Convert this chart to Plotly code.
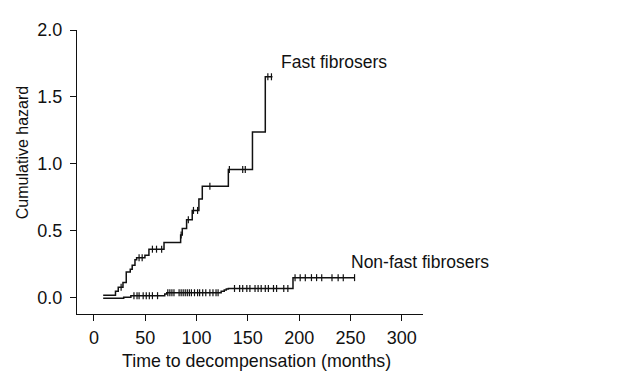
import numpy as np
import plotly.graph_objects as go

# ---- data ----
fast_times = [9, 21, 23.7, 28.3, 31.5, 35.4, 37.3, 40, 41.6, 49.7, 53.6, 68.3,
              84.5, 86.1, 90.3, 95.8, 102.3, 105.6, 131, 154.5, 167, 174]
fast_hazard = [0.015, 0.045, 0.075, 0.11, 0.19, 0.21, 0.24, 0.28, 0.295, 0.315, 0.36, 0.41,
               0.467, 0.515, 0.58, 0.65, 0.736, 0.83, 0.957, 1.236, 1.65, 1.65]
fast_censored = [26.5, 44, 47, 57, 61, 66, 85, 92, 97, 101, 113, 132, 145, 147.5, 169.5, 173]

nonfast_times = [9, 29, 36, 69, 71, 124, 127, 129, 131, 194, 254]
nonfast_hazard = [-0.008, 0.0, 0.012, 0.024, 0.034, 0.045, 0.055, 0.062, 0.066, 0.147, 0.147]
nonfast_censored = [39, 42, 44, 48, 51, 54, 57, 62, 72, 74, 76, 78, 83, 85, 87, 89, 91, 93,
                    95, 98, 101, 103, 106, 109, 113, 116, 119, 121, 137, 142, 145, 149, 152,
                    157, 160, 163, 167, 170, 175, 178, 185, 189, 196, 201, 206, 212, 217,
                    222, 232, 238, 243, 254]

x_ticks = [0, 50, 100, 150, 200, 250, 300]
y_ticks = [0.0, 0.5, 1.0, 1.5, 2.0]
y_tick_labels = ["0.0", "0.5", "1.0", "1.5", "2.0"]

x_title = "Time to decompensation (months)"
y_title = "Cumulative hazard"
fast_label = "Fast fibrosers"
nonfast_label = "Non-fast fibrosers"


def step_at(times, vals, t):
    idx = np.searchsorted(np.asarray(times), np.asarray(t), side="right") - 1
    return list(np.asarray(vals)[idx])


FONT = "Liberation Sans, Arial, sans-serif"
INK = "#111111"

fig = go.Figure()
for times, vals, cens in [(fast_times, fast_hazard, fast_censored),
                          (nonfast_times, nonfast_hazard, nonfast_censored)]:
    fig.add_trace(go.Scatter(x=times, y=vals, mode="lines", line_shape="hv",
                             line=dict(color=INK, width=1.5), showlegend=False,
                             hoverinfo="skip"))
    fig.add_trace(go.Scatter(x=cens, y=step_at(times, vals, cens), mode="markers",
                             marker=dict(symbol="line-ns", size=5,
                                         line=dict(color=INK, width=1.2)),
                             showlegend=False, hoverinfo="skip"))

fig.add_annotation(x=180.5, y=1.76, text=fast_label, showarrow=False, xanchor="left",
                   yanchor="middle", font=dict(family=FONT, size=17.5, color=INK))
fig.add_annotation(x=248.5, y=0.267, text=nonfast_label, showarrow=False, xanchor="left",
                   yanchor="middle", font=dict(family=FONT, size=17.5, color=INK))
fig.add_annotation(x=0.52, y=-0.165, xref="paper", yref="paper", text=x_title,
                   showarrow=False, xanchor="center", yanchor="middle",
                   font=dict(family=FONT, size=17.8, color=INK))
fig.add_annotation(x=-0.1575, y=0.568, xref="paper", yref="paper", text=y_title,
                   textangle=-90, showarrow=False, xanchor="center", yanchor="middle",
                   font=dict(family=FONT, size=16, color=INK))

axis_common = dict(showgrid=False, zeroline=False, showline=True, linecolor=INK,
                   linewidth=1.3, ticks="outside", ticklen=6, tickwidth=1.3,
                   tickcolor=INK, tickfont=dict(family=FONT, size=18, color=INK))
fig.update_xaxes(range=[-16.5, 320.7], tickvals=x_ticks, ticklabelstandoff=1,
                 **axis_common)
fig.update_yaxes(range=[-0.125, 2.0], tickvals=y_ticks, ticktext=y_tick_labels,
                 ticklabelstandoff=4, **axis_common)

# the page body adds an 8 px offset, so margins are reduced accordingly
fig.update_layout(width=622, height=371, margin=dict(l=69, r=207, t=13, b=65),
                  plot_bgcolor="white", paper_bgcolor="white",
                  font=dict(family=FONT, color=INK))

fig.write_html("out.html")
